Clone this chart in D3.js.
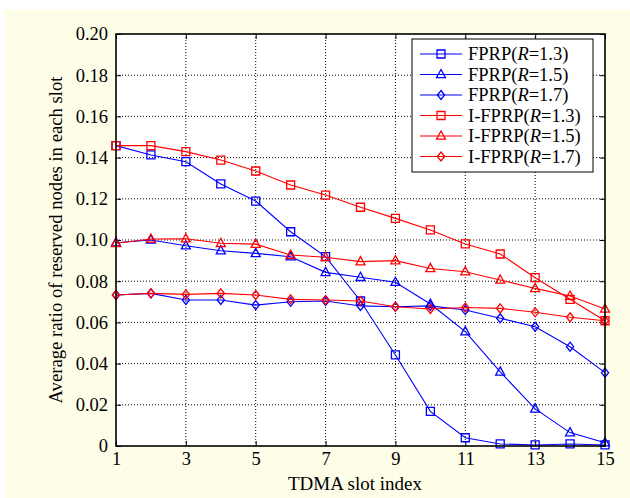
<!DOCTYPE html>
<html><head><meta charset="utf-8">
<script src="https://cdn.jsdelivr.net/npm/d3@7"></script>
<style>body{margin:0;background:#fff;} svg{display:block;}</style>
</head><body>
<svg id="c" width="630" height="498"></svg>
<script>
const slots = d3.range(1, 16);
const xTicks = [1,3,5,7,9,11,13,15];
const yTicks = [0,0.02,0.04,0.06,0.08,0.10,0.12,0.14,0.16,0.18,0.20];
const yTickLabels = ["0","0.02","0.04","0.06","0.08","0.10","0.12","0.14","0.16","0.18","0.20"];

const fprp13 = [0.1458,0.1413,0.1380,0.1272,0.1189,0.1040,0.0919,0.0704,0.0442,0.0168,0.0040,0.0010,0.0005,0.0010,0.0005];
const fprp15 = [0.0987,0.1000,0.0972,0.0948,0.0935,0.0919,0.0843,0.0819,0.0795,0.0689,0.0555,0.0360,0.0180,0.0065,0.0016];
const fprp17 = [0.0733,0.0741,0.0709,0.0709,0.0684,0.0700,0.0704,0.0680,0.0676,0.0680,0.0660,0.0620,0.0579,0.0482,0.0356];
const ifprp13 = [0.1458,0.1458,0.1429,0.1388,0.1335,0.1267,0.1218,0.1159,0.1105,0.1049,0.0981,0.0932,0.0817,0.0712,0.0608];
const ifprp15 = [0.0984,0.1005,0.1006,0.0984,0.0980,0.0927,0.0916,0.0895,0.0900,0.0862,0.0846,0.0806,0.0765,0.0728,0.0665];
const ifprp17 = [0.0733,0.0741,0.0736,0.0741,0.0733,0.0712,0.0709,0.0704,0.0676,0.0665,0.0672,0.0668,0.0649,0.0625,0.0608];

const seriesNames = ["FPRP","FPRP","FPRP","I-FPRP","I-FPRP","I-FPRP"];
const seriesR = ["1.3","1.5","1.7","1.3","1.5","1.7"];
const seriesColors = ["#0000ff","#0000ff","#0000ff","#ff0000","#ff0000","#ff0000"];
const seriesMarkers = ["square","triangle","diamond","square","triangle","diamond"];
const seriesValues = [fprp13, fprp15, fprp17, ifprp13, ifprp15, ifprp17];

const svg = d3.select("#c");
const L = 116, R = 605, T = 34, B = 446;
const font = "Liberation Serif, Times New Roman, serif";

svg.append("rect").attr("x",5).attr("y",10).attr("width",625).attr("height",488).attr("fill","#fefee8");
svg.append("rect").attr("x",L).attr("y",T).attr("width",R-L).attr("height",B-T).attr("fill","#fff");

const x = d3.scaleLinear().domain([1,15]).range([L,R]);
const y = d3.scaleLinear().domain([0,0.2]).range([B,T]);

// grid
const g = svg.append("g");
xTicks.slice(1,-1).forEach(v=>{
  g.append("line").attr("x1",x(v)).attr("x2",x(v)).attr("y1",T).attr("y2",B)
   .attr("stroke","#000").attr("stroke-width",1).attr("stroke-dasharray","1,2");
});
yTicks.slice(1,-1).forEach(v=>{
  g.append("line").attr("x1",L).attr("x2",R).attr("y1",y(v)).attr("y2",y(v))
   .attr("stroke","#000").attr("stroke-width",1).attr("stroke-dasharray","1,2");
});

// axes via d3 axis (inward ticks)
const tl = 5;
const axB = svg.append("g").attr("transform",`translate(0,${B})`)
  .call(d3.axisBottom(x).tickValues(xTicks).tickSizeInner(-tl).tickSizeOuter(0).tickPadding(6));
const axT = svg.append("g").attr("transform",`translate(0,${T})`)
  .call(d3.axisTop(x).tickValues(xTicks).tickSizeInner(-tl).tickSizeOuter(0).tickFormat(""));
const axL = svg.append("g").attr("transform",`translate(${L},0)`)
  .call(d3.axisLeft(y).tickValues(yTicks).tickSizeInner(-tl).tickSizeOuter(0).tickPadding(8)
        .tickFormat((d,i)=>yTickLabels[i]));
const axR = svg.append("g").attr("transform",`translate(${R},0)`)
  .call(d3.axisRight(y).tickValues(yTicks).tickSizeInner(-tl).tickSizeOuter(0).tickFormat(""));
[axB,axT,axL,axR].forEach(a=>{
  a.select(".domain").remove();
  a.selectAll("line").attr("stroke","#000").attr("stroke-width",1);
  a.selectAll("text").attr("font-family",font).attr("font-size",18.5).attr("fill","#000");
});

// series
function marker(sel, type, color){
  if(type==="diamond"){
    sel.append("path").attr("d","M0,-4.5L3.6,0L0,4.5L-3.6,0Z");
  } else if(type==="triangle"){
    sel.append("path").attr("d","M0,-5L4.5,3.2L-4.5,3.2Z");
  } else {
    sel.append("path").attr("d","M-4,-4H4V4H-4Z");
  }
  sel.selectAll("path").attr("fill","none").attr("stroke",color).attr("stroke-width",1.3);
}
const line = d3.line().x((d,i)=>x(slots[i])).y(d=>y(d));
seriesValues.forEach((vals,k)=>{
  const sg = svg.append("g");
  sg.append("path").attr("d",line(vals)).attr("fill","none").attr("stroke",seriesColors[k]).attr("stroke-width",1.1);
  vals.forEach((v,i)=>{
    const m = sg.append("g").attr("transform",`translate(${x(slots[i])},${y(v)})`);
    marker(m, seriesMarkers[k], seriesColors[k]);
  });
});

// frame
svg.append("rect").attr("x",L).attr("y",T).attr("width",R-L).attr("height",B-T)
  .attr("fill","none").attr("stroke","#000").attr("stroke-width",1.6);

// axis labels
svg.append("text").attr("x",355).attr("y",490).attr("text-anchor","middle")
  .attr("font-family",font).attr("font-size",19).text("TDMA slot index");
svg.append("text").attr("transform","translate(62,240) rotate(-90)").attr("text-anchor","middle")
  .attr("font-family",font).attr("font-size",18.7).text("Average ratio of reserved nodes in each slot");

// legend
const lg = svg.append("g");
lg.append("rect").attr("x",412).attr("y",39).attr("width",181).attr("height",133)
  .attr("fill","#fff").attr("stroke","#000").attr("stroke-width",1);
seriesNames.forEach((n,k)=>{
  const yy = 54 + k*20.5;
  lg.append("line").attr("x1",420).attr("x2",462).attr("y1",yy).attr("y2",yy)
    .attr("stroke",seriesColors[k]).attr("stroke-width",1.1);
  const m = lg.append("g").attr("transform",`translate(441,${yy})`);
  marker(m, seriesMarkers[k], seriesColors[k]);
  const t = lg.append("text").attr("x",468).attr("y",yy+6).attr("font-family",font).attr("font-size",18.5);
  t.append("tspan").text(n+"(");
  t.append("tspan").attr("font-style","italic").text("R");
  t.append("tspan").text("="+seriesR[k]+")");
});
</script>
</body></html>
